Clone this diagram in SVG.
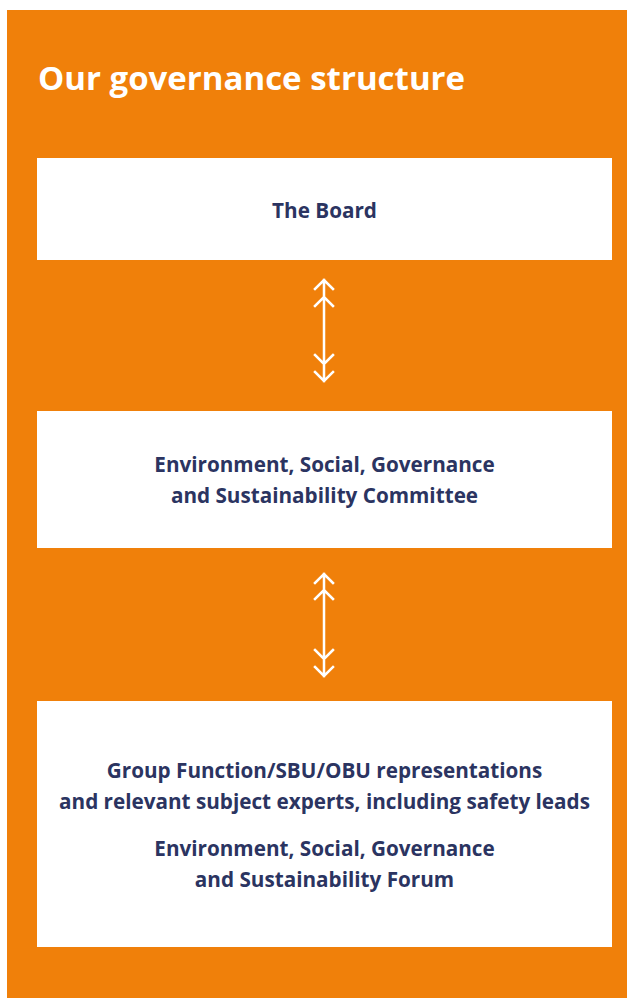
<svg xmlns="http://www.w3.org/2000/svg" width="627" height="998" viewBox="0 0 627 998">
<style>
.bg{fill:#F0800A}
.box{fill:#FFFFFF}
.t{font-family:"Open Sans",Lato,"Liberation Sans",sans-serif;font-weight:bold;font-size:20.7px;fill:#2B3461;text-anchor:middle}
.title{font-family:"Open Sans",Lato,"Liberation Sans",sans-serif;font-weight:bold;font-size:33px;fill:#FFFFFF}
.arr{stroke:#FFFFFF;stroke-width:2.5;fill:none;stroke-linecap:square}
</style>
<rect class="bg" x="7" y="10" width="620" height="988"/>
<text class="title" x="38" y="90">Our governance structure</text>
<g id="board">
<rect class="box" x="37" y="158" width="575" height="102"/>
<text class="t" x="324.5" y="218">The Board</text>
</g>
<g id="committee">
<rect class="box" x="37" y="411" width="575" height="137"/>
<text class="t" x="324.5" y="472">Environment, Social, Governance</text>
<text class="t" x="324.5" y="503">and Sustainability Committee</text>
</g>
<g id="forum">
<rect class="box" x="37" y="701" width="575" height="246"/>
<text class="t" x="324.5" y="778">Group Function/SBU/OBU representations</text>
<text class="t" x="324.5" y="809">and relevant subject experts, including safety leads</text>
<text class="t" x="324.5" y="856">Environment, Social, Governance</text>
<text class="t" x="324.5" y="887">and Sustainability Forum</text>
</g>
<g id="connectors">
<path class="arr" d="M324 280 V381 M315 289 L324 280 L333 289 M315 306 L324 297 L333 306 M315 355 L324 364 L333 355 M315 372 L324 381 L333 372"/>
<path class="arr" d="M324 574 V676 M315 583 L324 574 L333 583 M315 599 L324 590 L333 599 M315 650 L324 659 L333 650 M315 667 L324 676 L333 667"/>
</g>
</svg>
